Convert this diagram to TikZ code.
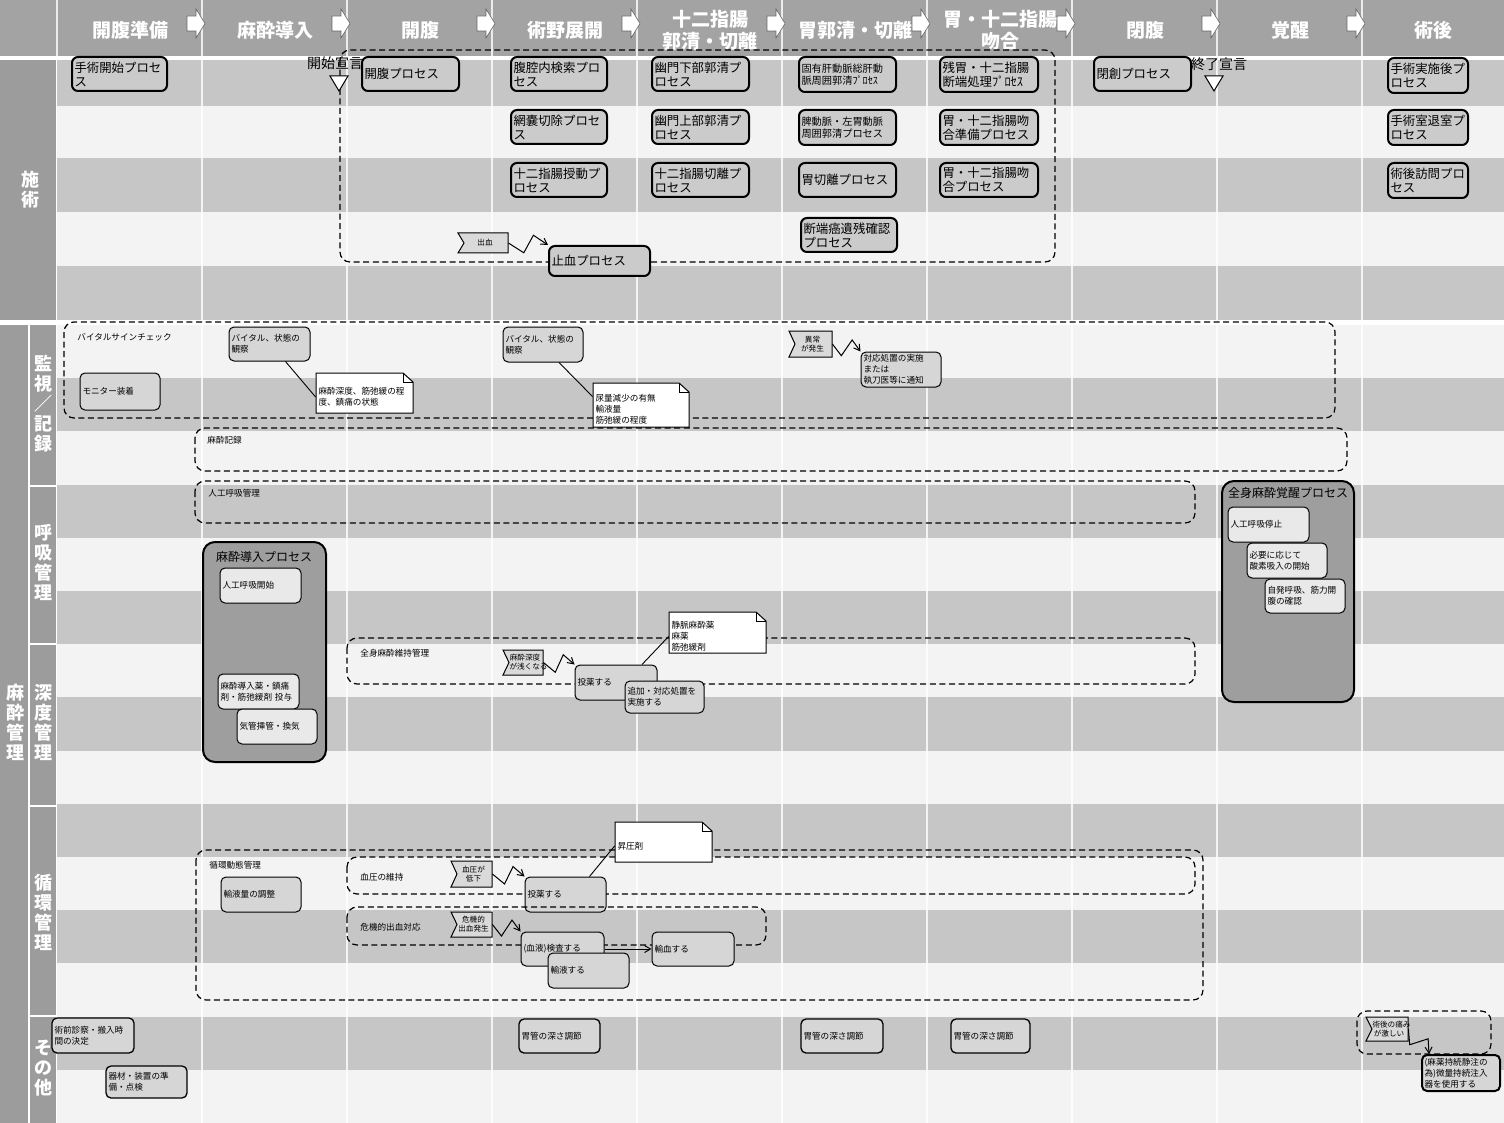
\documentclass[tikz,border=0pt]{standalone}
\usepackage{fontspec}
\setmainfont{Noto Sans CJK JP}
\usetikzlibrary{calc,arrows.meta}
\definecolor{hdr}{HTML}{A3A3A3}
\definecolor{lbl}{HTML}{9C9C9C}
\definecolor{sgray}{HTML}{C6C6C6}
\definecolor{swhite}{HTML}{F3F3F3}
\definecolor{procfill}{HTML}{CBCBCB}
\definecolor{taskfill}{HTML}{D6D6D6}
\definecolor{taskw}{HTML}{E9E9E9}
\definecolor{contfill}{HTML}{9E9E9E}
\definecolor{flagfill}{HTML}{DADADA}
\newcommand{\fhdr}{\fontsize{9.5}{11}\selectfont\bfseries}
\newcommand{\flbl}{\fontsize{9}{10}\selectfont\bfseries}
\newcommand{\fproc}{\fontsize{6.2}{7}\selectfont}
\newcommand{\fprocs}{\fontsize{5.1}{6}\selectfont}
\newcommand{\fsmall}{\fontsize{4.3}{5.4}\selectfont}
\newcommand{\fflag}{\fontsize{3.8}{4.4}\selectfont}
\newcommand{\fmark}{\fontsize{7}{8}\selectfont}
\newcommand{\ftitle}{\fontsize{6}{7}\selectfont}
\tikzset{
 proc/.style={draw=black, line width=1pt, rounded corners=3pt, fill=procfill, font=\fproc},
 procs/.style={proc, font=\fprocs},
 task/.style={draw=black, line width=0.5pt, rounded corners=2.5pt, fill=taskfill, font=\fsmall},
 taskw/.style={task, fill=taskw},
 taskm/.style={task, line width=0.65pt},
 region/.style={draw=black, line width=0.6pt, dash pattern=on 3pt off 1.8pt, rounded corners=5pt},
 cont/.style={draw=black, line width=1pt, rounded corners=6pt, fill=contfill},
 notebody/.style={draw=black, line width=0.5pt, fill=white},
 notetext/.style={font=\fsmall},
 flagbody/.style={draw=black, line width=0.5pt, fill=flagfill},
 flagtext/.style={font=\fflag, align=center},
 bolt/.style={draw=black, line width=0.5pt, -{Straight Barb[length=3pt,width=3.5pt]}},
 link/.style={draw=black, line width=0.45pt},
 hdrtext/.style={font=\fhdr, text=white, align=center},
 lbltext/.style={font=\flbl, text=white, align=center},
 rlabel/.style={font=\fsmall, anchor=west, inner sep=0pt},
 marktext/.style={font=\fmark, inner sep=0pt},
 ctitle/.style={font=\ftitle, inner sep=0pt},
}
% box from corners
\newcommand{\mkbox}[7]{%
 \pgfmathsetlengthmacro\bxw{((#5)-(#3))*0.5pt-2.5pt}%
 \pgfmathsetlengthmacro\bxh{((#6)-(#4))*0.5pt}%
 \node[align=left, inner xsep=1.25pt, inner ysep=0.3pt, #1, text width=\bxw, minimum height=\bxh] (#2) at ({((#3)+(#5))/2},{((#4)+(#6))/2}) {#7};}
\newcommand{\notebox}[6]{%
 \draw[notebody] (#2,#3) -- ({#4-10},#3) -- (#4,{#3+9}) -- (#4,#5) -- (#2,#5) -- cycle;
 \draw[notebody, fill=none] ({#4-10},#3) -- ({#4-10},{#3+9}) -- (#4,{#3+9});
 \mkbox{notetext}{#1}{#2}{(#3+8)}{#4}{#5}{#6}}
\newcommand{\flagbox}[6]{%
 \draw[flagbody] (#2,#3) -- (#4,#3) -- (#4,#5) -- (#2,#5) -- ({#2+6},{(#3+#5)/2}) -- cycle;
 \mkbox{flagtext}{#1}{(#2+4)}{#3}{#4}{#5}{#6}}
\newcommand{\boltline}[2]{%
 \path (#1) -- (#2) coordinate[pos=0.4] (bA) coordinate[pos=0.62] (bB);
 \draw[bolt] (#1) -- ($(bA)!4.5pt!-90:(#2)$) -- ($(bB)!4.5pt!90:(#2)$) -- (#2);}
\begin{document}
\begin{tikzpicture}[x=0.5pt,y=-0.5pt]
\useasboundingbox (0,0) rectangle (1504,1123);
\fill[white] (0,0) rectangle (1504,1123);
% header
\fill[hdr] (0,0) rectangle (1504,56);
% upper stripes
\fill[sgray] (57,60) rectangle (1504,106);
\fill[swhite] (57,106) rectangle (1504,158);
\fill[sgray] (57,158) rectangle (1504,212);
\fill[swhite] (57,212) rectangle (1504,266);
\fill[sgray] (57,266) rectangle (1504,320);
% lower stripes
\fill[swhite] (57,325) rectangle (1504,1123);
\foreach \i in {1,3,5,7,9,11,13} \fill[sgray] (57,{325+53.2*\i}) rectangle (1504,{325+53.2*(\i+1)});
% left label columns
\fill[lbl] (0,60) rectangle (56,320);
\fill[lbl] (0,325) rectangle (28,1123);
\fill[lbl] (30,325) rectangle (56,485);
\fill[lbl] (30,487) rectangle (56,643);
\fill[lbl] (30,645) rectangle (56,805);
\fill[lbl] (30,807) rectangle (56,1015);
\fill[lbl] (30,1017) rectangle (56,1123);
% column lines
\foreach \c in {202,347,...,1362} \draw[white, line width=0.8pt, opacity=0.8] (\c,0) -- (\c,1123);
\draw[white, line width=0.8pt, opacity=0.8] (57,0) -- (57,56);
% header arrows
\foreach \b in {202,347,...,1362} \draw[fill=white, draw=black!60, line width=0.3pt] ({\b-15},16) -- ({\b-6},16) -- ({\b-6},9) -- ({\b+3},23.5) -- ({\b-6},38) -- ({\b-6},31) -- ({\b-15},31) -- cycle;
% header labels
\node[hdrtext] (h1) at (130,30) {開腹準備};
\node[hdrtext] (h2) at (275,30) {麻酔導入};
\node[hdrtext] (h3) at (420,30) {開腹};
\node[hdrtext] (h4) at (565,30) {術野展開};
\node[hdrtext] (h5) at (710,30) {十二指腸\\郭清・切離};
\node[hdrtext] (h6) at (855,30) {胃郭清・切離};
\node[hdrtext] (h7) at (1000,30) {胃・十二指腸\\吻合};
\node[hdrtext] (h8) at (1145,30) {閉腹};
\node[hdrtext] (h9) at (1290,30) {覚醒};
\node[hdrtext] (h10) at (1433,30) {術後};
% left labels
\node[lbltext] (l1) at (30,190) {施\\術};
\node[lbltext] (l2) at (43,404) {監\\視\\／\\記\\録};
\node[lbltext] (l3) at (43,562) {呼\\吸\\管\\理};
\node[lbltext] (l4) at (43,722) {深\\度\\管\\理};
\node[lbltext] (l5) at (43,912) {循\\環\\管\\理};
\node[lbltext] (l6) at (15,722) {麻\\酔\\管\\理};
\node[lbltext] (l7) at (43,1068) {そ\\の\\他};

% ===== 施術 =====
\draw[region] (340,50) rectangle (1055,262);
\node[marktext] (kaishi) at (335,63) {開始宣言};
\draw[fill=white, line width=0.5pt] (330,76) -- (348,76) -- (339,91) -- cycle;
\node[marktext] (shuryo) at (1219,64) {終了宣言};
\draw[fill=white, line width=0.5pt] (1205,76) -- (1223,76) -- (1214,91) -- cycle;

\mkbox{proc}{start}{72}{57}{167}{91}{手術開始プロセ\\ス}
\mkbox{proc}{kaifuku}{362}{57}{459}{91}{開腹プロセス}
\mkbox{proc}{fukukuu}{511}{57}{607}{91}{腹腔内検索プロ\\セス}
\mkbox{proc}{mounou}{511}{110}{607}{144}{網嚢切除プロセ\\ス}
\mkbox{proc}{judo}{511}{163}{607}{197}{十二指腸授動プ\\ロセス}
\mkbox{proc}{yumonka}{652}{57}{749}{91}{幽門下部郭清プ\\ロセス}
\mkbox{proc}{yumonjo}{652}{110}{749}{144}{幽門上部郭清プ\\ロセス}
\mkbox{proc}{junisetsu}{652}{163}{749}{197}{十二指腸切離プ\\ロセス}
\mkbox{procs}{koyu}{799}{57}{896}{92}{固有肝動脈総肝動\\脈周囲郭清ﾌﾟﾛｾｽ}
\mkbox{procs}{hido}{799}{110}{896}{145}{脾動脈・左胃動脈\\周囲郭清プロセス}
\mkbox{proc}{isetsu}{799}{163}{896}{197}{胃切離プロセス}
\mkbox{proc}{danta}{801}{218}{897}{252}{断端癌遺残確認\\プロセス}
\mkbox{proc}{zani}{940}{57}{1038}{92}{残胃・十二指腸\\断端処理ﾌﾟﾛｾｽ}
\mkbox{proc}{junbi}{940}{110}{1038}{145}{胃・十二指腸吻\\合準備プロセス}
\mkbox{proc}{fungo}{940}{163}{1038}{197}{胃・十二指腸吻\\合プロセス}
\mkbox{proc}{heiso}{1094}{57}{1191}{91}{閉創プロセス}
\mkbox{proc}{jisshi}{1388}{58}{1468}{93}{手術実施後プ\\ロセス}
\mkbox{proc}{taishitsu}{1388}{110}{1468}{145}{手術室退室プ\\ロセス}
\mkbox{proc}{homon}{1388}{163}{1468}{198}{術後訪問プロ\\セス}
\mkbox{proc}{hemo}{549}{246}{650}{276}{止血プロセス}
\flagbox{bleed}{458}{233}{508}{253}{出血}
\boltline{bleed.east}{hemo.north west}

% ===== 監視／記録 =====
\draw[region] (64,322) rectangle (1335,418);
\node[rlabel] (vslbl) at (77,337) {バイタルサインチェック};
\mkbox{task}{vital1}{229}{327}{310}{361}{バイタル、状態の\\観察}
\notebox{note1}{316}{373}{413}{413}{麻酔深度、筋弛緩の程\\度、鎮痛の状態}
\draw[link] ([xshift=8pt]vital1.south) -- (note1.west);
\mkbox{task}{monitor}{80}{373}{160}{410}{モニター装着}
\mkbox{task}{vital2}{503}{327}{583}{362}{バイタル、状態の\\観察}
\notebox{note2}{593}{383}{689}{427}{尿量減少の有無\\輸液量\\筋弛緩の程度}
\draw[link] ([xshift=8pt]vital2.south) -- ([yshift=-3pt]note2.north west);
\flagbox{ijo}{789}{331}{832}{357}{異常\\が発生}
\mkbox{task}{taio}{861}{352}{941}{387}{対応処置の実施\\または\\執刀医等に通知}
\boltline{ijo.east}{taio.north west}
\draw[region] (195,428) rectangle (1347,471);
\node[rlabel] (reclbl) at (207,440) {麻酔記録};

% ===== 呼吸管理 =====
\draw[region] (195,481) rectangle (1195,523);
\node[rlabel] (resplbl) at (208,493) {人工呼吸管理};
\draw[cont] (1222,481) rectangle (1354,702);
\node[ctitle] (wakeT) at (1288,493) {全身麻酔覚醒プロセス};
\mkbox{taskw}{stopv}{1228}{507}{1309}{542}{人工呼吸停止}
\mkbox{taskw}{oxy}{1247}{543}{1327}{578}{必要に応じて\\酸素吸入の開始}
\mkbox{taskw}{spont}{1265}{579}{1345}{613}{自発呼吸、筋力開\\腹の確認}
\draw[cont] (203,542) rectangle (326,762);
\node[ctitle] (indT) at (264,557) {麻酔導入プロセス};
\mkbox{taskw}{ventst}{220}{568}{301}{603}{人工呼吸開始}
\mkbox{taskw}{drug}{218}{674}{299}{709}{麻酔導入薬・鎮痛\\剤・筋弛緩剤 投与}
\mkbox{taskw}{intub}{237}{709}{317}{744}{気管挿管・換気}

% ===== 深度管理 =====
\draw[region] (347,638) rectangle (1195,684);
\node[rlabel] (mntlbl) at (360,653) {全身麻酔維持管理};
\flagbox{shallow}{503}{650}{543}{675}{麻酔深度\\が浅くなる}
\mkbox{task}{toyaku1}{575}{665}{657}{700}{投薬する}
\notebox{note3}{669}{612}{766}{653}{静脈麻酔薬\\麻薬\\筋弛緩剤}
\draw[link] ([xshift=13pt]toyaku1.north) -- (note3.west);
\mkbox{task}{tsuika}{625}{681}{704}{713}{追加・対応処置を\\実施する}
\boltline{shallow.east}{toyaku1.north west}

% ===== 循環管理 =====
\draw[region] (196,850) rectangle (1203,1000);
\node[rlabel] (circlbl) at (209,865) {循環動態管理};
\mkbox{task}{yuekich}{221}{877}{301}{912}{輸液量の調整}
\draw[region] (347,857) rectangle (1195,894);
\node[rlabel] (bplbl) at (360,877) {血圧の維持};
\flagbox{bpdown}{451}{861}{492}{887}{血圧が\\低下}
\mkbox{task}{toyaku2}{525}{877}{606}{912}{投薬する}
\notebox{note4}{615}{822}{712}{862}{昇圧剤}
\draw[link] ([xshift=12pt]toyaku2.north) -- (note4.west);
\boltline{bpdown.east}{toyaku2.north west}
\draw[region] (347,907) rectangle (766,945);
\node[rlabel] (critlbl) at (360,927) {危機的出血対応};
\flagbox{crit}{451}{912}{492}{937}{危機的\\出血発生}
\mkbox{task}{kensa}{521}{932}{604}{966}{(血液)検査する}
\mkbox{task}{yueki}{548}{953}{629}{988}{輸液する}
\mkbox{task}{yuketsu}{652}{932}{734}{966}{輸血する}
\boltline{crit.east}{kensa.north west}
\draw[bolt] (kensa.east) -- (yuketsu.west);

% ===== その他 =====
\mkbox{taskm}{shinsatsu}{52}{1018}{134}{1053}{術前診察・搬入時\\間の決定}
\mkbox{taskm}{kizai}{106}{1066}{187}{1098}{器材・装置の準\\備・点検}
\mkbox{taskm}{ikan1}{519}{1019}{600}{1053}{胃管の深さ調節}
\mkbox{taskm}{ikan2}{801}{1019}{883}{1053}{胃管の深さ調節}
\mkbox{taskm}{ikan3}{951}{1019}{1030}{1053}{胃管の深さ調節}
\draw[region] (1357,1011) rectangle (1491,1054);
\flagbox{pain}{1366}{1017}{1408}{1041}{術後の痛み\\が激しい}
\mkbox{task,line width=1pt}{pca}{1422}{1055}{1500}{1091}{(麻薬持続静注の\\為)微量持続注入\\器を使用する}
\boltline{pain.east}{[xshift=4pt]pca.north west}
\end{tikzpicture}
\end{document}
